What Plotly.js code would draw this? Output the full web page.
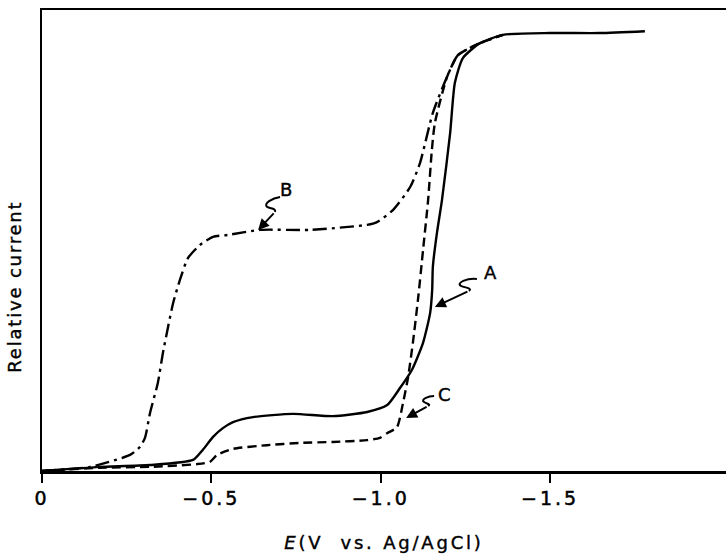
<!DOCTYPE html>
<html>
<head>
<meta charset="utf-8">
<script src="https://cdn.plot.ly/plotly-3.0.1.min.js"></script>
<style>
html,body{margin:0;padding:0;background:#fff}
#chart{width:726px;height:559px}
#chart .xtick text{letter-spacing:3px;stroke:#000;stroke-width:0.5px}
#chart .g-xtitle text{letter-spacing:2.8px;stroke:#000;stroke-width:0.4px}
#chart .annotation-text{letter-spacing:1.8px;stroke:#000;stroke-width:0.4px}
</style>
</head>
<body>
<div id="chart"></div>
<script>
// Potential E (V vs. Ag/AgCl) and relative current for curves A, B, C
const aE = [0, -0.074, -0.171, -0.319, -0.446, -0.475, -0.505, -0.534, -0.564, -0.623, -0.741, -0.859, -0.960, -1.019, -1.057, -1.092, -1.125, -1.146, -1.152, -1.154, -1.166, -1.181, -1.205, -1.219, -1.243, -1.293, -1.361, -1.500, -1.647, -1.780];
const aI = [0, 0.004, 0.009, 0.013, 0.024, 0.046, 0.074, 0.093, 0.106, 0.117, 0.124, 0.119, 0.128, 0.143, 0.180, 0.219, 0.278, 0.343, 0.393, 0.443, 0.516, 0.588, 0.733, 0.842, 0.896, 0.928, 0.946, 0.950, 0.950, 0.954];

const bE = [0, -0.142, -0.260, -0.289, -0.304, -0.319, -0.342, -0.357, -0.372, -0.387, -0.407, -0.431, -0.466, -0.505, -0.549, -0.644, -0.791, -0.960, -0.989, -1.036, -1.087, -1.116, -1.154, -1.196, -1.228, -1.293, -1.361];
const bI = [0, 0.009, 0.035, 0.052, 0.072, 0.126, 0.191, 0.256, 0.312, 0.364, 0.414, 0.462, 0.490, 0.508, 0.512, 0.523, 0.523, 0.534, 0.540, 0.566, 0.616, 0.668, 0.777, 0.855, 0.902, 0.928, 0.946];

const cE = [0, -0.171, -0.319, -0.458, -0.496, -0.517, -0.564, -0.664, -0.762, -0.859, -0.960, -0.998, -1.019, -1.048, -1.066, -1.081, -1.095, -1.110, -1.125, -1.140, -1.151, -1.160, -1.196, -1.228, -1.293, -1.361];
const cI = [0, 0.007, 0.009, 0.015, 0.020, 0.035, 0.048, 0.056, 0.061, 0.063, 0.067, 0.072, 0.082, 0.095, 0.148, 0.204, 0.278, 0.371, 0.479, 0.588, 0.696, 0.755, 0.855, 0.902, 0.928, 0.946];

const tickVals = [0, -0.5, -1.0, -1.5];
const tickText = ['0', '\u22120.5', '\u22121.0', '\u22121.5'];

// Curve labels and the points their arrows mark
const labelNames = ['A', 'B', 'C'];
const labelAtE = [-1.160, -0.638, -1.075];
const labelAtI = [0.356, 0.523, 0.115];

const FONT = 'DejaVu Sans, sans-serif';

const traces = [
  {x: aE, y: aI, mode: 'lines', line: {color: '#000', width: 2.4, shape: 'spline', smoothing: 0.6}, name: 'A', hoverinfo: 'skip'},
  {x: bE, y: bI, mode: 'lines', line: {color: '#000', width: 2.4, dash: '14px,5px,3px,5px', shape: 'spline', smoothing: 0.6}, name: 'B', hoverinfo: 'skip'},
  {x: cE, y: cI, mode: 'lines', line: {color: '#000', width: 2.4, dash: '9px,5px', shape: 'spline', smoothing: 0.6}, name: 'C', hoverinfo: 'skip'}
];

// pixel geometry of each label's squiggle (offsets from the arrow tip)
const deco = {
  A: {letter: [57, -34], shaft: [34, -16], s: 'M 42,28 C 32,29 21,24 26,21 C 30,19 38,19 34,16'},
  B: {letter: [29, -40], shaft: [17, -18], s: 'M 22,33 C 14,32 5,26 9,23 C 12,21 18,22 17,18'},
  C: {letter: [39, -23], shaft: [22, -12], s: 'M 28,22 C 22,22 14,18 18,16 C 21,14 25,14 22,12'}
};

const annotations = [];
const shapes = [];
labelNames.forEach((n, i) => {
  const d = deco[n];
  annotations.push({
    x: labelAtE[i], y: labelAtI[i], xref: 'x', yref: 'y', text: '',
    showarrow: true, arrowhead: 2, arrowsize: 1.1, arrowwidth: 2, arrowcolor: '#000',
    ax: d.shaft[0], ay: d.shaft[1], standoff: 0, startstandoff: 0
  });
  annotations.push({
    x: labelAtE[i], y: labelAtI[i], xref: 'x', yref: 'y', text: n, showarrow: false,
    xshift: d.letter[0], yshift: -d.letter[1], xanchor: 'center', yanchor: 'middle',
    font: {family: FONT, size: 18, color: '#000'}
  });
  shapes.push({
    type: 'path', xref: 'x', yref: 'y', xsizemode: 'pixel', ysizemode: 'pixel',
    xanchor: labelAtE[i], yanchor: labelAtI[i], path: d.s,
    line: {color: '#000', width: 2}
  });
});
annotations.push({
  text: 'Relative current', xref: 'paper', yref: 'paper', x: -0.04, y: 0.4,
  xanchor: 'center', yanchor: 'middle', textangle: -90, showarrow: false,
  font: {family: FONT, size: 18, color: '#000'}
});

const layout = {
  width: 726, height: 559,
  margin: {l: 42, r: 0, t: 10, b: 88},
  paper_bgcolor: '#fff', plot_bgcolor: '#fff',
  showlegend: false,
  xaxis: {
    range: [0, -2.0195], showgrid: false, zeroline: false,
    showline: true, mirror: true, linecolor: '#000', linewidth: 2.5,
    tickmode: 'array', tickvals: tickVals, ticktext: tickText,
    ticks: 'outside', ticklen: 9, tickwidth: 2, tickcolor: '#000',
    tickfont: {family: FONT, size: 19, color: '#000'},
    title: {text: '<i>E</i>(V  vs. Ag/AgCl)', font: {family: FONT, size: 18, color: '#000'}, standoff: 28}
  },
  yaxis: {
    range: [0, 1], showgrid: false, zeroline: false,
    showline: true, linecolor: '#000', linewidth: 2.5,
    showticklabels: false, ticks: ''
  },
  annotations: annotations,
  shapes: shapes
};

Plotly.newPlot('chart', traces, layout, {displayModeBar: false, staticPlot: true});
</script>
</body>
</html>
